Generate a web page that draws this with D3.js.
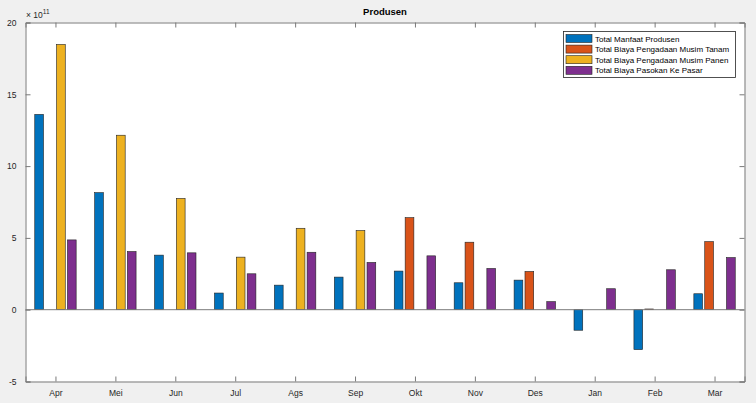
<!DOCTYPE html>
<html><head><meta charset="utf-8">
<script src="https://cdn.jsdelivr.net/npm/d3@7"></script>
<style>body{margin:0;background:#f0f0f0;}svg{display:block;font-family:"Liberation Sans",Arial,sans-serif;}</style>
</head><body>
<svg id="c" width="756" height="403"></svg>
<script>
const months = ["Apr","Mei","Jun","Jul","Ags","Sep","Okt","Nov","Des","Jan","Feb","Mar"];
const seriesNames = ["Total Manfaat Produsen","Total Biaya Pengadaan Musim Tanam","Total Biaya Pengadaan Musim Panen","Total Biaya Pasokan Ke Pasar"];
const manfaat = [13.6, 8.15, 3.8, 1.16, 1.71, 2.27, 2.69, 1.875, 2.06, -1.43, -2.78, 1.11];
const biayaTanam = [0, 0, 0, 0, 0, 0, 6.41, 4.70, 2.66, 0, 0.05, 4.74];
const biayaPanen = [18.47, 12.15, 7.75, 3.66, 5.67, 5.51, 0, 0, 0, 0, 0, 0];
const biayaPasokan = [4.86, 4.05, 3.96, 2.5, 4.0, 3.29, 3.75, 2.87, 0.56, 1.46, 2.78, 3.63];
const colors = ["#0072BD","#D95319","#EDB120","#7E2F8E"];
const yTicks = [-5, 0, 5, 10, 15, 20];
const series = [manfaat, biayaTanam, biayaPanen, biayaPasokan];

const svg = d3.select("#c");
const L = 25.5, R = 744.5, T = 22.5, B = 381.5;
const x = d3.scaleLinear().domain([0.5, 12.5]).range([L, R]);
const y = d3.scaleLinear().domain([-5, 20]).range([B, T]);
const axisCol = "#262626", boxCol = "#7a7a7a";

svg.append("rect").attr("x", L).attr("y", T).attr("width", R - L).attr("height", B - T).attr("fill", "#fff");

// bars
const n = series.length;
const groupW = Math.min(0.8, n / (n + 1.5));
const slot = groupW / n;
const bw = slot * 0.8;
series.forEach((vals, si) => {
  const off = -groupW / 2 + slot * (si + 0.5);
  svg.append("g").selectAll("rect").data(vals).join("rect")
    .attr("x", (d, i) => x(i + 1 + off - bw / 2))
    .attr("width", x(bw) - x(0))
    .attr("y", d => y(Math.max(0, d)))
    .attr("height", d => Math.abs(y(d) - y(0)))
    .attr("fill", colors[si])
    .attr("stroke", "#222").attr("stroke-width", 0.6)
    .attr("display", d => d === 0 ? "none" : null);
});
// baseline
svg.append("line").attr("x1", L).attr("x2", R).attr("y1", y(0)).attr("y2", y(0)).attr("stroke", boxCol).attr("stroke-width", 1);

// axes
const tl = 5;
const gL = svg.append("g").attr("transform", `translate(${L},0)`)
  .call(d3.axisLeft(y).tickValues(yTicks).tickSize(-tl).tickPadding(9).tickFormat(d => String(d)));
const gR = svg.append("g").attr("transform", `translate(${R},0)`)
  .call(d3.axisRight(y).tickValues(yTicks).tickSize(-tl).tickFormat(""));
const gB = svg.append("g").attr("transform", `translate(0,${B})`)
  .call(d3.axisBottom(x).tickValues(d3.range(1, 13)).tickSize(-tl).tickPadding(8).tickFormat(d => months[d - 1]));
const gT = svg.append("g").attr("transform", `translate(0,${T})`)
  .call(d3.axisTop(x).tickValues(d3.range(1, 13)).tickSize(-tl).tickFormat(""));
[gL, gR, gB, gT].forEach(g => {
  g.select(".domain").attr("stroke", boxCol);
  g.selectAll(".tick line").attr("stroke", boxCol);
  g.selectAll("text").attr("fill", axisCol).style("font-size", "8.5px").style("font-family", "Liberation Sans, Arial, sans-serif");
});

// exponent
const ex = svg.append("text").attr("x", 26).attr("y", 18).attr("fill", axisCol).style("font-size", "8.5px");
ex.append("tspan").text("\u00d7 10");
ex.append("tspan").attr("dy", -4).style("font-size", "6.5px").text("11");

// title
svg.append("text").attr("x", (L + R) / 2).attr("y", 15).attr("text-anchor", "middle")
  .attr("fill", "#000").style("font-size", "9.5px").style("font-weight", "bold").text("Produsen");

// legend
const lg = svg.append("g");
lg.append("rect").attr("x", 563.5).attr("y", 31.5).attr("width", 172).attr("height", 46)
  .attr("fill", "#fff").attr("stroke", "#262626").attr("stroke-width", 0.8);
seriesNames.forEach((name, i) => {
  const cy = 38.5 + i * 10.6;
  lg.append("rect").attr("x", 566).attr("y", cy - 4).attr("width", 26).attr("height", 8)
    .attr("fill", colors[i]).attr("stroke", "#222").attr("stroke-width", 0.6);
  lg.append("text").attr("x", 595).attr("y", cy + 3).attr("fill", "#000").style("font-size", "8px").text(name);
});
</script>
</body></html>
